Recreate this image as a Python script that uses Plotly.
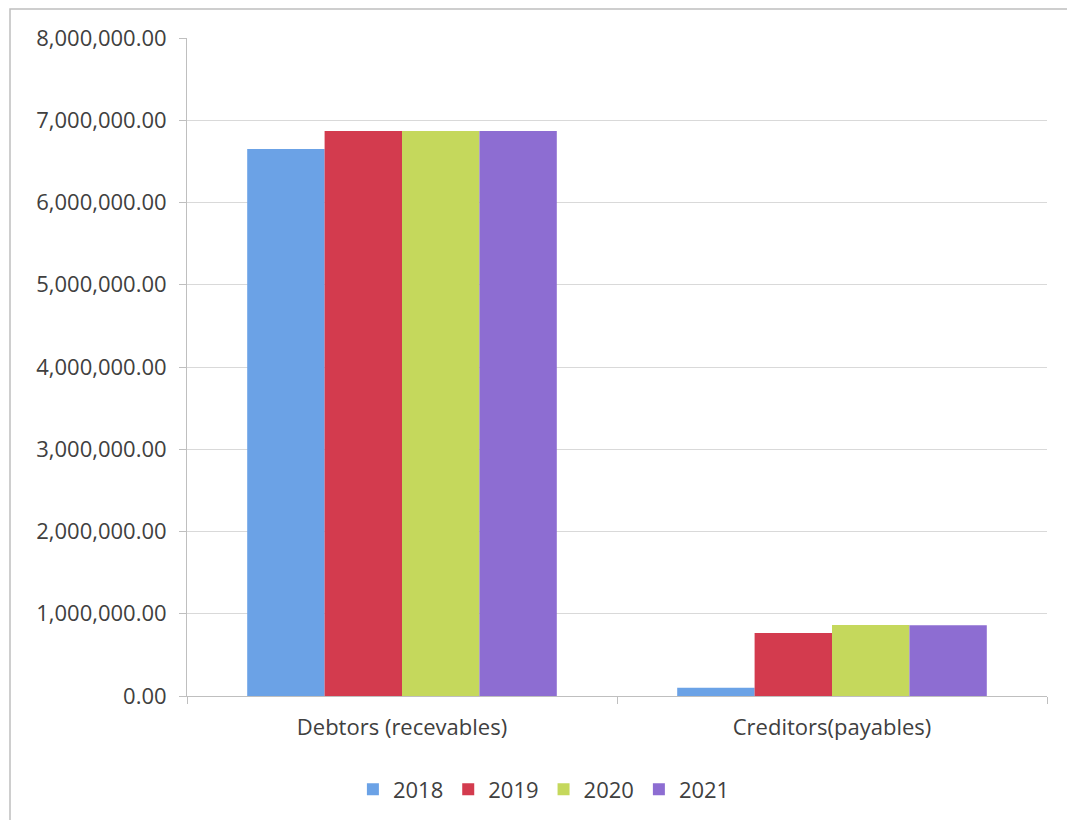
import plotly.graph_objects as go

categories = ["Debtors (recevables)", "Creditors(payables)"]
years = ["2018", "2019", "2020", "2021"]
values_2018 = [6650000, 100000]
values_2019 = [6870000, 765000]
values_2020 = [6870000, 862000]
values_2021 = [6870000, 860000]
series = [values_2018, values_2019, values_2020, values_2021]
colors = ["#6BA2E6", "#D33B4E", "#C5D85C", "#8D6DD2"]

fig = go.Figure()
for name, vals, col in zip(years, series, colors):
    fig.add_trace(go.Bar(x=categories, y=vals, name=name, marker=dict(color=col, line=dict(width=0))))

W, H = 1067, 820
ml, mr, mt, mb = 187, 20, 38, 124
pw, ph = W - ml - mr, H - mt - mb

def px_to_paper_x(px):
    return (px - ml) / pw

def px_to_paper_y(py):
    return (H - mb - py) / ph

fig.update_layout(
    width=W, height=H,
    margin=dict(l=ml, r=mr, t=mt, b=mb, autoexpand=False),
    paper_bgcolor="white", plot_bgcolor="white",
    barmode="group", bargap=0.28, bargroupgap=0,
    font=dict(family="Open Sans, Liberation Sans, sans-serif", color="#404040", size=20),
    legend=dict(orientation="h", x=0.415, xanchor="center", y=-0.11, yanchor="top",
                font=dict(size=22), itemwidth=30, traceorder="normal"),
    showlegend=True,
    xaxis=dict(showline=True, linecolor="#BFBFBF", ticks="outside", tickson="boundaries",
               ticklen=7, tickcolor="#BFBFBF", tickfont=dict(size=22, color="#404040"),
               showgrid=False, ticklabelstandoff=12),
    yaxis=dict(range=[0, 8000000], dtick=1000000, tickformat=",.2f", showline=True,
               linecolor="#BFBFBF", ticks="outside", ticklen=7, tickcolor="#BFBFBF",
               gridcolor="#D9D9D9", tickfont=dict(size=22, color="#404040"),
               zeroline=False, ticklabelstandoff=8),
    shapes=[dict(type="rect", xref="paper", yref="paper",
                 x0=px_to_paper_x(10), x1=px_to_paper_x(1075),
                 y0=px_to_paper_y(830), y1=px_to_paper_y(9),
                 line=dict(color="#BFBFBF", width=1.5), layer="below")],
)

fig.write_html("out.html")
